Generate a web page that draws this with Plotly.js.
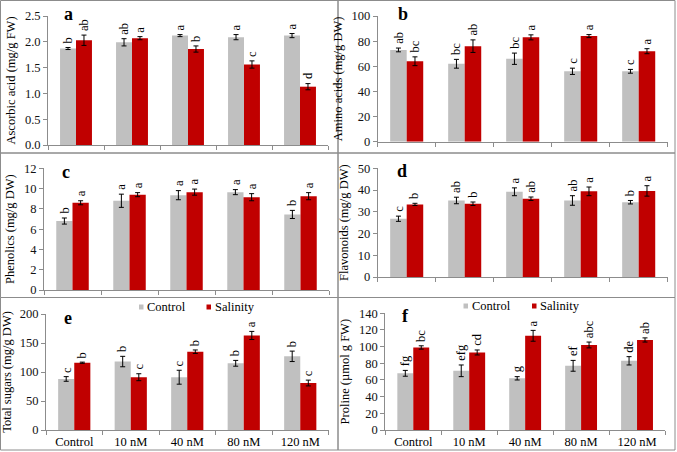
<!DOCTYPE html>
<html>
<head>
<meta charset="utf-8">
<script src="https://cdn.plot.ly/plotly-3.0.1.min.js"></script>
<style>html,body{margin:0;padding:0;background:#fff;}#chart{width:677px;height:452px;}</style>
</head>
<body>
<div id="chart"></div>
<script>
const categories = ['Control', '10 nM', '40 nM', '80 nM', '120 nM'];

// a: Ascorbic acid (mg/g FW)
const ascControl = [1.87, 1.99, 2.12, 2.09, 2.12];
const ascControlErr = [0.02, 0.07, 0.02, 0.05, 0.04];
const ascSalinity = [2.03, 2.07, 1.86, 1.56, 1.13];
const ascSalinityErr = [0.10, 0.03, 0.06, 0.07, 0.06];
const ascControlLetters = ['b', 'ab', 'a', 'a', 'a'];
const ascSalinityLetters = ['ab', 'a', 'b', 'c', 'd'];

// b: Amino acids (mg/g DW)
const aminoControl = [73, 62, 66, 56, 56];
const aminoControlErr = [1.5, 3.5, 4.5, 2.5, 1.5];
const aminoSalinity = [64, 76, 83, 84, 72];
const aminoSalinityErr = [3.5, 5, 2, 1.2, 2];
const aminoControlLetters = ['ab', 'bc', 'bc', 'c', 'c'];
const aminoSalinityLetters = ['bc', 'ab', 'a', 'a', 'a'];

// c: Phenolics (mg/g DW)
const phenControl = [6.8, 8.8, 9.35, 9.65, 7.45];
const phenControlErr = [0.3, 0.65, 0.45, 0.25, 0.4];
const phenSalinity = [8.6, 9.4, 9.65, 9.15, 9.25];
const phenSalinityErr = [0.2, 0.2, 0.3, 0.35, 0.35];
const phenControlLetters = ['b', 'a', 'a', 'a', 'b'];
const phenSalinityLetters = ['a', 'a', 'a', 'a', 'a'];

// d: Flavonoids (mg/g DW)
const flavControl = [26.8, 35.2, 39.2, 35.2, 34.4];
const flavControlErr = [1.2, 1.5, 1.8, 2.2, 0.8];
const flavSalinity = [33.4, 33.7, 36.0, 39.4, 39.6];
const flavSalinityErr = [0.5, 0.8, 0.8, 2.0, 2.4];
const flavControlLetters = ['c', 'ab', 'a', 'ab', 'b'];
const flavSalinityLetters = ['b', 'b', 'ab', 'a', 'a'];

// e: Total sugars (mg/g DW)
const sugarControl = [88, 118, 91, 115, 127];
const sugarControlErr = [4, 9, 12, 5, 9];
const sugarSalinity = [116, 91, 135, 163, 81];
const sugarSalinityErr = [1, 6, 3, 7, 5];
const sugarControlLetters = ['c', 'b', 'c', 'b', 'b'];
const sugarSalinityLetters = ['b', 'c', 'b', 'a', 'c'];

// f: Proline (µmol g FW)
const prolControl = [68, 71, 62, 77, 83];
const prolControlErr = [3.5, 7, 2, 6.5, 5];
const prolSalinity = [99, 93, 113, 102, 108];
const prolSalinityErr = [2, 3, 6.5, 3.5, 2.5];
const prolControlLetters = ['fg', 'efg', 'g', 'ef', 'de'];
const prolSalinityLetters = ['bc', 'cd', 'a', 'abc', 'ab'];

const seriesNames = ['Control', 'Salinity'];
const panelLetters = ['a', 'b', 'c', 'd', 'e', 'f'];
const yTitles = ['Ascorbic acid (mg/g FW)', 'Amino acids (mg/g DW)', 'Phenolics (mg/g DW)',
  'Flavonoids (mg/g DW)', 'Total sugars (mg/g DW)', 'Proline (µmol g FW)'];

const W = 677, H = 452;
const FONT = 'Liberation Serif';
const GRAY = '#c0c0c0', RED = '#c00000', AXIS = '#8c8c8c';

const panels = [
  {c: ascControl, ce: ascControlErr, s: ascSalinity, se: ascSalinityErr, cl: ascControlLetters, sl: ascSalinityLetters,
   range: [0, 2.5], dtick: 0.5, fmt: '.1f', px: [48, 328], py: [16, 145], letter: [62, 14]},
  {c: aminoControl, ce: aminoControlErr, s: aminoSalinity, se: aminoSalinityErr, cl: aminoControlLetters, sl: aminoSalinityLetters,
   range: [0, 100], dtick: 20, fmt: 'd', px: [377.7, 667.7], py: [16, 141.7], letter: [396, 14]},
  {c: phenControl, ce: phenControlErr, s: phenSalinity, se: phenSalinityErr, cl: phenControlLetters, sl: phenSalinityLetters,
   range: [0, 12], dtick: 2, fmt: 'd', px: [44, 329], py: [168.3, 290], letter: [60, 172]},
  {c: flavControl, ce: flavControlErr, s: flavSalinity, se: flavSalinityErr, cl: flavControlLetters, sl: flavSalinityLetters,
   range: [0, 50], dtick: 10, fmt: 'd', px: [377.7, 667.7], py: [168.3, 277], letter: [395, 171]},
  {c: sugarControl, ce: sugarControlErr, s: sugarSalinity, se: sugarSalinityErr, cl: sugarControlLetters, sl: sugarSalinityLetters,
   range: [0, 200], dtick: 50, fmt: 'd', px: [46, 328.5], py: [314, 430], letter: [62, 318], bottom: true},
  {c: prolControl, ce: prolControlErr, s: prolSalinity, se: prolSalinityErr, cl: prolControlLetters, sl: prolSalinityLetters,
   range: [0, 140], dtick: 20, fmt: 'd', px: [385.3, 665], py: [313.3, 430], letter: [400, 316], bottom: true}
];

const data = [];
const annotations = [];
const shapes = [];
const layout = {
  width: W, height: H,
  margin: {l: 0, r: 0, t: 0, b: 0},
  paper_bgcolor: '#ffffff', plot_bgcolor: '#ffffff',
  font: {family: FONT, size: 12, color: '#000'},
  barmode: 'group', bargap: 0.43, bargroupgap: 0,
  showlegend: false
};

panels.forEach((p, i) => {
  const n = i + 1;
  const xa = 'x' + (n === 1 ? '' : n), ya = 'y' + (n === 1 ? '' : n);
  const xk = 'xaxis' + (n === 1 ? '' : n), yk = 'yaxis' + (n === 1 ? '' : n);
  const err = (arr) => ({type: 'data', array: arr, visible: true, color: '#000', thickness: 1, width: 2.5});
  data.push({type: 'bar', name: seriesNames[0], x: categories, y: p.c, error_y: err(p.ce),
    marker: {color: GRAY}, xaxis: xa, yaxis: ya, hoverinfo: 'x+y'});
  data.push({type: 'bar', name: seriesNames[1], x: categories, y: p.s, error_y: err(p.se),
    marker: {color: RED}, xaxis: xa, yaxis: ya, hoverinfo: 'x+y'});

  layout[xk] = {
    domain: [p.px[0] / W, p.px[1] / W], anchor: ya, type: 'category',
    showline: true, linecolor: AXIS, linewidth: 1, ticks: 'outside', tickson: 'boundaries',
    ticklen: 4, tickcolor: AXIS, showgrid: false, zeroline: false,
    showticklabels: !!p.bottom, tickfont: {family: FONT, size: 12.5, color: '#000'}, fixedrange: true
  };
  layout[yk] = {
    domain: [1 - p.py[1] / H, 1 - p.py[0] / H], anchor: xa, range: p.range, dtick: p.dtick,
    tickformat: p.fmt, showline: true, linecolor: AXIS, linewidth: 1, ticks: 'outside', ticklen: 4,
    tickcolor: AXIS, showgrid: false, zeroline: false, tickfont: {family: FONT, size: 12.5, color: '#111'},
    title: {text: yTitles[i], font: {family: FONT, size: 12.5, color: '#000'}, standoff: 6}, fixedrange: true
  };

  // significance letters
  const addLetters = (vals, errs, letters, shift) => {
    vals.forEach((v, k) => {
      annotations.push({xref: xa, yref: ya, x: categories[k], y: v + errs[k], text: letters[k],
        showarrow: false, textangle: -90, xanchor: 'center', yanchor: 'bottom', xshift: shift, yshift: 2,
        font: {family: FONT, size: 12.5, color: '#000'}});
    });
  };
  addLetters(p.c, p.ce, p.cl, -8);
  addLetters(p.s, p.se, p.sl, 8);

  // panel letter
  annotations.push({xref: 'paper', yref: 'paper', x: p.letter[0] / W, y: 1 - p.letter[1] / H,
    text: '<b>' + panelLetters[i] + '</b>', showarrow: false, xanchor: 'left', yanchor: 'middle',
    font: {family: FONT, size: 18, color: '#000'}});
});

// panel frames
const colsX = [0.5, 338, 675];
const rowsY = [0.5, 153, 297.5, 450];
for (let r = 0; r < 3; r++) {
  for (let c = 0; c < 2; c++) {
    shapes.push({type: 'rect', xref: 'paper', yref: 'paper',
      x0: colsX[c] / W, x1: colsX[c + 1] / W, y0: 1 - rowsY[r + 1] / H, y1: 1 - rowsY[r] / H,
      line: {color: '#8c8c8c', width: 1}, fillcolor: 'rgba(0,0,0,0)'});
  }
}

// legends for panels e and f
const legendSpots = [
  {sq: [139, 206.5], y: 307},
  {sq: [463.5, 532], y: 306}
];
legendSpots.forEach(l => {
  [GRAY, RED].forEach((col, j) => {
    shapes.push({type: 'rect', xref: 'paper', yref: 'paper',
      x0: l.sq[j] / W, x1: (l.sq[j] + 4.5) / W, y0: 1 - (l.y + 2.5) / H, y1: 1 - (l.y - 2.5) / H,
      line: {width: 0}, fillcolor: col});
    annotations.push({xref: 'paper', yref: 'paper', x: (l.sq[j] + 6) / W, y: 1 - l.y / H,
      text: seriesNames[j], showarrow: false, xanchor: 'left', yanchor: 'middle',
      font: {family: FONT, size: 12.5, color: '#000'}});
  });
});

layout.annotations = annotations;
layout.shapes = shapes;

Plotly.newPlot('chart', data, layout, {displayModeBar: false, staticPlot: true});
</script>
</body>
</html>
